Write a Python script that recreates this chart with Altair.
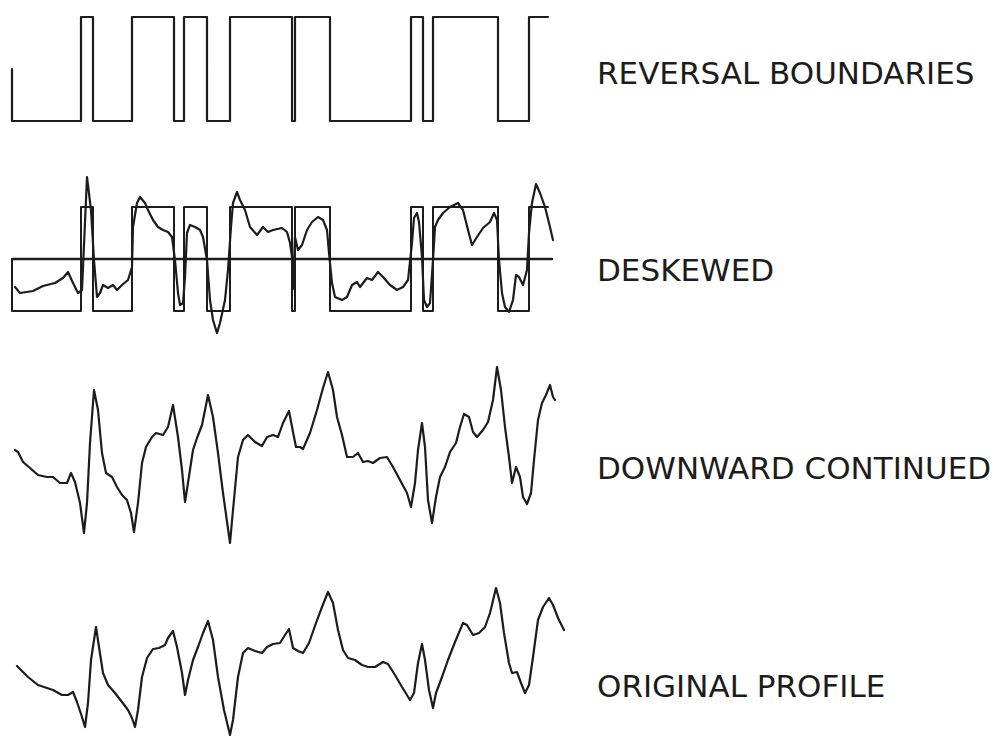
import altair as alt
import pandas as pd

# ---- reversal model: block boundaries (distance units) and polarity of each block
boundaries = [0, 69, 81, 120, 162, 172, 195, 218, 280, 283, 318, 399, 411, 421, 486, 517, 536]
polarity = [-1, 1, -1, 1, -1, 1, -1, 1, -1, 1, -1, 1, -1, 1, -1, 1]
block_amp = 52  # model block amplitude on the deskewed trace

# ---- deskewed profile
desk_dist = [3, 8, 21, 31, 43, 51, 56, 61, 66, 70, 75, 79, 82, 85, 88, 91, 96, 101, 105, 110,
             116, 120, 121, 125, 128, 133, 136, 141, 146, 151, 156, 160, 163, 166, 168, 171, 173,
             175, 178, 183, 188, 191, 195, 198, 201, 205, 208, 213, 216, 219, 221, 225, 228, 233,
             238, 245, 251, 256, 261, 270, 275, 278, 280, 281, 283, 286, 290, 295, 300, 306, 311,
             315, 317, 320, 323, 330, 335, 340, 345, 348, 355, 360, 366, 371, 378, 385, 391, 396,
             400, 402, 405, 407, 410, 412, 415, 418, 421, 423, 426, 431, 438, 446, 451, 456, 460,
             465, 471, 478, 482, 485, 487, 490, 493, 497, 501, 504, 507, 511, 515, 517, 520, 524,
             528, 533, 537, 541]
desk_amp = [-28, -34, -32, -27, -24, -19, -13, -24, -34, -31, 82, 49, -1, -38, -34, -26, -29, -26,
            -31, -26, -21, -8, 32, 56, 62, 56, 49, 39, 32, 29, 27, 22, -1, -34, -46, -44, -18, 26,
            34, 32, 29, 22, -1, -41, -61, -74, -64, -41, -11, 32, 56, 67, 59, 49, 32, 24, 32, 27,
            29, 31, 27, 16, 2, -30, 22, 9, 14, 29, 37, 42, 39, 29, 6, -24, -38, -41, -38, -26, -23,
            -28, -19, -21, -13, -18, -26, -31, -28, -21, 16, 41, 46, 37, 2, -41, -48, -44, -1, 32,
            39, 46, 52, 56, 49, 29, 14, 22, 31, 37, 46, 39, -1, -34, -48, -53, -41, -16, -18, -26,
            -11, 26, 56, 75, 66, 52, 36, 19]

# ---- downward continued profile
down_dist = [3, 6, 11, 18, 26, 35, 41, 48, 55, 59, 63, 68, 72, 75, 78, 82, 86, 90, 94, 100, 105,
             110, 115, 119, 122, 126, 130, 134, 140, 144, 151, 156, 161, 166, 170, 173, 176, 181,
             185, 190, 196, 201, 206, 211, 218, 221, 226, 231, 236, 243, 250, 255, 261, 266, 271,
             277, 281, 284, 288, 291, 298, 305, 311, 316, 321, 325, 330, 335, 341, 346, 351, 356,
             361, 368, 375, 381, 388, 395, 399, 403, 406, 410, 413, 416, 420, 424, 428, 433, 438,
             444, 448, 452, 457, 461, 465, 471, 476, 481, 485, 489, 493, 497, 500, 504, 508, 511,
             515, 519, 522, 526, 530, 534, 538, 541, 543]
down_amp = [10, 8, -2, -8, -15, -17, -17, -23, -23, -13, -22, -43, -73, -43, 17, 70, 50, 7, -13,
            -17, -27, -35, -40, -53, -72, -43, -3, 13, 23, 27, 25, 33, 55, 23, -10, -42, -23, 10,
            22, 35, 65, 43, 7, -33, -83, -50, 3, 20, 25, 18, 14, 23, 25, 23, 37, 49, 28, 13, 13,
            11, 27, 50, 72, 88, 70, 43, 25, 3, 3, 7, -2, -1, -3, 2, 3, -7, -20, -33, -47, -23, 10,
            37, 13, -40, -63, -37, -17, -7, 8, 17, 33, 46, 43, 28, 23, 30, 38, 60, 93, 70, 33, 3,
            -23, -7, -17, -37, -44, -33, 0, 40, 57, 65, 75, 63, 60]

# ---- original profile
orig_dist = [5, 11, 16, 26, 35, 41, 50, 56, 61, 65, 70, 73, 76, 79, 84, 87, 91, 96, 103, 110, 116,
             120, 123, 126, 130, 135, 141, 147, 153, 156, 161, 165, 170, 173, 176, 181, 186, 191,
             196, 201, 206, 212, 218, 221, 226, 231, 236, 243, 250, 255, 261, 268, 273, 277, 281,
             286, 291, 297, 304, 310, 316, 321, 326, 331, 336, 343, 350, 356, 363, 371, 376, 383,
             390, 398, 402, 406, 410, 413, 417, 421, 424, 430, 436, 443, 451, 455, 461, 467, 473,
             478, 484, 488, 492, 497, 500, 505, 509, 513, 517, 521, 526, 531, 537, 541, 546, 552]
orig_amp = [-1, -7, -12, -20, -23, -25, -30, -30, -27, -37, -52, -62, -38, 5, 38, 18, -8, -20, -28,
            -37, -45, -53, -62, -45, -12, 7, 16, 17, 20, 27, 34, 18, -8, -30, -15, 5, 18, 32, 44,
            25, -12, -45, -70, -55, -12, 12, 17, 14, 12, 18, 21, 22, 30, 36, 17, 14, 12, 22, 42,
            58, 73, 62, 35, 15, 7, 5, 0, -2, -2, 3, 1, -10, -22, -35, -28, 2, 21, 5, -25, -43,
            -28, -12, 5, 23, 42, 40, 30, 32, 38, 52, 77, 62, 32, 2, -8, -7, -18, -28, -20, 8, 45,
            58, 67, 60, 47, 35]

labels = ["REVERSAL BOUNDARIES", "DESKEWED", "DOWNWARD CONTINUED", "ORIGINAL PROFILE"]


def square_wave(bounds, signs, amp):
    rows = [{"i": 0, "dist": bounds[0], "amp": 0}]
    for k, s in enumerate(signs):
        rows.append({"i": len(rows), "dist": bounds[k], "amp": s * amp})
        rows.append({"i": len(rows), "dist": bounds[k + 1], "amp": s * amp})
    return pd.DataFrame(rows)


def profile(dist, amp):
    return pd.DataFrame({"i": range(len(dist)), "dist": dist, "amp": amp})


INK = "#1c1c1c"
x_enc = alt.X("dist:Q", scale=alt.Scale(domain=[0, 536], range=[12, 548], nice=False, zero=False), axis=None)


def trace(df, domain, rng, width=2.0):
    return alt.Chart(df).mark_line(color=INK, strokeWidth=width, strokeJoin="round", strokeCap="round").encode(
        x=x_enc,
        y=alt.Y("amp:Q", scale=alt.Scale(domain=domain, range=rng, nice=False, zero=False), axis=None),
        order="i:Q",
    )


top = trace(square_wave(boundaries, polarity, 1), [-1, 1], [121, 17], 2.2)

desk_domain, desk_range = [-80, 90], [339, 169]
desk_box = trace(square_wave(boundaries, polarity, block_amp), desk_domain, desk_range, 2.0)
desk_zero = trace(profile([1, 540], [0, 0]), desk_domain, desk_range, 2.4)
desk_curve = trace(profile(desk_dist, desk_amp), desk_domain, desk_range, 2.2)

down_curve = trace(profile(down_dist, down_amp), [-100, 100], [560, 360], 2.2)
orig_curve = trace(profile(orig_dist, orig_amp), [-100, 100], [765, 565], 2.2)

label_y = [75, 272, 470, 688]
texts = [
    alt.Chart(pd.DataFrame({"label": [lab]})).mark_text(
        align="left", baseline="middle", font="DejaVu Sans", fontSize=31, color=INK
    ).encode(x=alt.value(597), y=alt.value(ly), text="label:N")
    for lab, ly in zip(labels, label_y)
]

chart = alt.layer(top, desk_box, desk_zero, desk_curve, down_curve, orig_curve, *texts).resolve_scale(
    y="independent"
).properties(
    width=1003, height=739, padding=0, autosize="none", background="white"
).configure_view(stroke=None)

chart.save("out.html", embed_options={"renderer": "svg", "actions": False})
